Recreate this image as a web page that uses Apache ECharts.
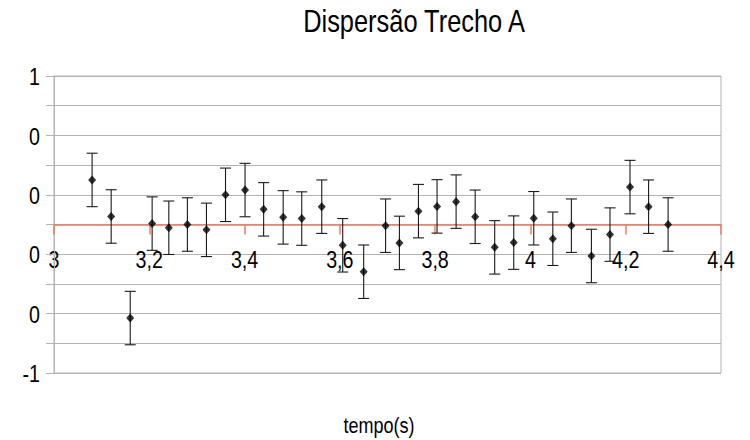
<!DOCTYPE html>
<html>
<head>
<meta charset="utf-8">
<title>Dispersão Trecho A</title>
<script src="https://cdn.jsdelivr.net/npm/echarts@6/dist/echarts.min.js"></script>
<style>
  html, body { margin: 0; padding: 0; background: #ffffff; }
  #chart { width: 750px; height: 440px; }
</style>
</head>
<body>
<div id="chart"></div>
<script>
// Tempo (s) de cada medida
const tempo = [3.080, 3.120, 3.160, 3.206, 3.241, 3.280, 3.320, 3.360, 3.401, 3.440,
               3.481, 3.520, 3.562, 3.606, 3.650, 3.696, 3.725, 3.765, 3.804, 3.844,
               3.884, 3.925, 3.965, 4.007, 4.047, 4.086, 4.128, 4.167, 4.209, 4.248, 4.289];
// Dispersão medida em cada instante
const dispersao = [0.150, 0.027, -0.315, 0.003, -0.011, 0.000, -0.018, 0.100, 0.116, 0.051,
                   0.024, 0.020, 0.060, -0.070, -0.159, -0.004, -0.062, 0.045, 0.061, 0.077,
                   0.026, -0.077, -0.061, 0.021, -0.048, -0.004, -0.106, -0.034, 0.126, 0.060, 0.000];
// Incerteza (barra de erro) de cada ponto
const erro = [0.09, 0.09, 0.09, 0.09, 0.09, 0.09, 0.09, 0.09, 0.09, 0.09,
              0.09, 0.09, 0.09, 0.09, 0.09, 0.09, 0.09, 0.09, 0.09, 0.09,
              0.09, 0.09, 0.09, 0.09, 0.09, 0.09, 0.09, 0.09, 0.09, 0.09, 0.09];
// Marcas e rótulos dos eixos
const xTicks = [3, 3.2, 3.4, 3.6, 3.8, 4, 4.2, 4.4];
const xTickLabels = ['3', '3,2', '3,4', '3,6', '3,8', '4', '4,2', '4,4'];
const yLabelValues = [0.5, 0.3, 0.1, -0.1, -0.3, -0.5];
const yTickLabels = ['1', '0', '0', '0', '0', '-1'];
const yLimits = [-0.5, 0.5];

// Fonte estreita simulada: Liberation Sans comprimida na horizontal
const FONT = "'Liberation Sans', Arial, sans-serif";
const NARROW = 0.82;

const pontos = tempo.map((t, i) => [t, dispersao[i]]);
const barras = tempo.map((t, i) => [t, dispersao[i], erro[i]]);

const chart = echarts.init(document.getElementById('chart'), null, { renderer: 'svg' });

chart.setOption({
  animation: false,
  backgroundColor: '#ffffff',
  grid: { left: 54, right: 29, top: 76, bottom: 67, show: true, borderColor: '#b3b3b3', borderWidth: 1 },
  xAxis: {
    type: 'value',
    min: xTicks[0],
    max: xTicks[xTicks.length - 1],
    interval: 0.2,
    axisLine: { onZero: true, lineStyle: { color: '#f2785c', width: 1.5 } },
    axisTick: { show: true, length: 10, lineStyle: { color: '#f2785c', width: 1.5 } },
    axisLabel: { show: false },
    splitLine: { show: false }
  },
  yAxis: {
    type: 'value',
    min: yLimits[0],
    max: yLimits[1],
    interval: 0.1,
    axisLine: { show: true, lineStyle: { color: '#b3b3b3' } },
    axisTick: { show: true, length: 8, lineStyle: { color: '#b3b3b3' } },
    axisLabel: { show: false },
    splitLine: { show: true, lineStyle: { color: '#b3b3b3', width: 1 } }
  },
  series: [
    {
      type: 'custom',
      data: barras,
      encode: { x: 0, y: 1 },
      z: 2,
      renderItem: function (params, api) {
        const x = api.value(0), y = api.value(1), e = api.value(2);
        const top = api.coord([x, y + e]);
        const bot = api.coord([x, y - e]);
        const hw = 5.5;
        const st = { stroke: '#1a1a1a', lineWidth: 1.1 };
        return {
          type: 'group',
          children: [
            { type: 'line', shape: { x1: top[0], y1: top[1], x2: bot[0], y2: bot[1] }, style: st },
            { type: 'line', shape: { x1: top[0] - hw, y1: top[1], x2: top[0] + hw, y2: top[1] }, style: st },
            { type: 'line', shape: { x1: bot[0] - hw, y1: bot[1], x2: bot[0] + hw, y2: bot[1] }, style: st }
          ]
        };
      }
    },
    {
      type: 'scatter',
      data: pontos,
      symbol: 'diamond',
      symbolSize: [8, 9],
      z: 3,
      itemStyle: { color: '#000000' }
    }
  ]
});

// Títulos e rótulos dos eixos em fonte estreita, posicionados pela escala do gráfico
const textos = [
  {
    type: 'text', x: 414, y: 6, scaleX: NARROW,
    style: { text: 'Dispersão Trecho A', font: '31px ' + FONT, fill: '#000', align: 'center', verticalAlign: 'top' }
  },
  {
    type: 'text', x: 379, y: 414, scaleX: NARROW,
    style: { text: 'tempo(s)', font: '22px ' + FONT, fill: '#000', align: 'center', verticalAlign: 'top' }
  }
];
xTicks.forEach((v, i) => {
  const p = chart.convertToPixel({ gridIndex: 0 }, [v, 0]);
  textos.push({
    type: 'text', x: p[0], y: p[1] + 35, scaleX: NARROW,
    style: { text: xTickLabels[i], font: '24px ' + FONT, fill: '#000', align: 'center', verticalAlign: 'middle' }
  });
});
yLabelValues.forEach((v, i) => {
  const p = chart.convertToPixel({ gridIndex: 0 }, [xTicks[0], v]);
  textos.push({
    type: 'text', x: p[0] - 14, y: p[1] + 1, scaleX: NARROW,
    style: { text: yTickLabels[i], font: '24px ' + FONT, fill: '#000', align: 'right', verticalAlign: 'middle' }
  });
});
chart.setOption({ graphic: textos });
</script>
</body>
</html>
